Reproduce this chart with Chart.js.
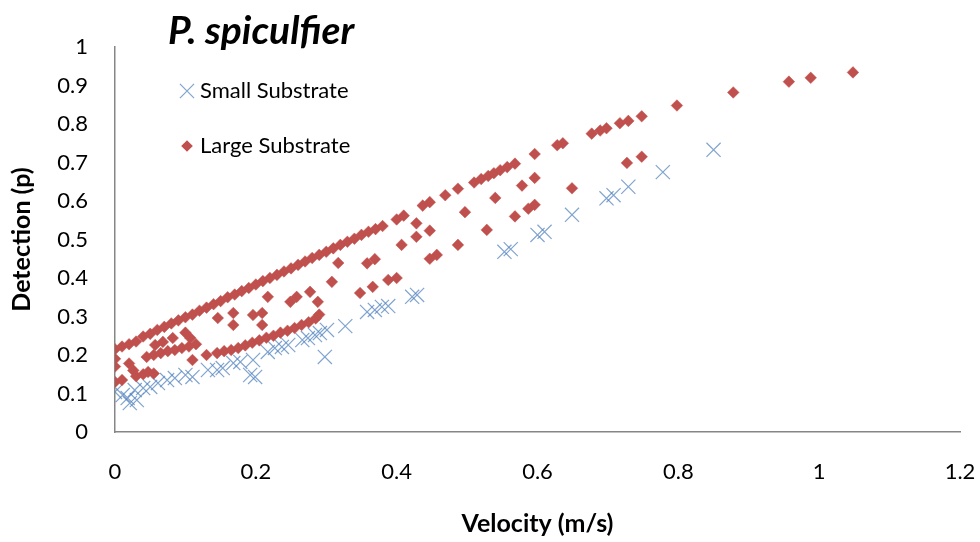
<!DOCTYPE html>
<html><head><meta charset="utf-8">
<script src="https://cdn.jsdelivr.net/npm/chart.js@4/dist/chart.umd.min.js"></script>
<style>html,body{margin:0;padding:0;background:#fff}canvas{display:block}</style>
</head><body>
<canvas id="c" width="980" height="542"></canvas>
<script>
const chartTitle = 'P. spiculfier';
const xAxisTitle = 'Velocity (m/s)';
const yAxisTitle = 'Detection (p)';
const seriesNames = ['Small Substrate', 'Large Substrate'];
const xTickValues = [0, 0.2, 0.4, 0.6, 0.8, 1, 1.2];
const yTickValues = [0, 0.1, 0.2, 0.3, 0.4, 0.5, 0.6, 0.7, 0.8, 0.9, 1];

const smallVelocity = [0, 0.011, 0.018, 0.021, 0.028, 0.031, 0.04, 0.05, 0.061, 0.074, 0.085, 0.1, 0.11, 0.132, 0.145,
  0.153, 0.168, 0.178, 0.196, 0.192, 0.199, 0.217, 0.227, 0.237, 0.246, 0.266, 0.274, 0.284, 0.291, 0.301, 0.298,
  0.327, 0.358, 0.369, 0.379, 0.388, 0.422, 0.429, 0.553, 0.562, 0.6, 0.61, 0.649, 0.698, 0.708, 0.729, 0.778, 0.85];
const smallDetection = [0.104, 0.096, 0.088, 0.075, 0.109, 0.083, 0.114, 0.117, 0.127, 0.135, 0.14, 0.148, 0.143, 0.161, 0.161,
  0.166, 0.179, 0.182, 0.187, 0.148, 0.143, 0.208, 0.218, 0.221, 0.226, 0.239, 0.244, 0.252, 0.257, 0.265, 0.195,
  0.275, 0.312, 0.317, 0.325, 0.327, 0.351, 0.356, 0.468, 0.475, 0.512, 0.52, 0.564, 0.607, 0.615, 0.637, 0.675, 0.733];

const largeVelocity = [
  0, 0.01, 0.02, 0.03, 0.04, 0.05, 0.06, 0.07, 0.08, 0.09, 0.1, 0.11, 0.12, 0.13, 0.14, 0.15, 0.16, 0.17, 0.18, 0.19,
  0.2, 0.21, 0.22, 0.23, 0.24, 0.25, 0.26, 0.27, 0.28, 0.29, 0.3, 0.31, 0.32, 0.33, 0.34, 0.35, 0.36, 0.37, 0.38,
  0.4, 0.41, 0.437, 0.447, 0.469, 0.487, 0.51, 0.52, 0.53, 0.538, 0.547, 0.557, 0.568,
  0.596, 0.628, 0.636, 0.677, 0.689, 0.698, 0.717, 0.729, 0.748, 0.798, 0.878, 0.957, 0.988, 1.048,
  0, 0, 0, 0.01, 0.02, 0.026, 0.03, 0.04, 0.047, 0.055,
  0.045, 0.055, 0.065, 0.075, 0.085, 0.095, 0.105, 0.115,
  0.057, 0.068, 0.082, 0.1, 0.107, 0.11, 0.146, 0.168, 0.168,
  0.13, 0.145, 0.155, 0.165, 0.175, 0.185, 0.195, 0.205, 0.215, 0.225, 0.235, 0.245, 0.255, 0.265, 0.275, 0.285, 0.29,
  0.196, 0.209, 0.209, 0.217, 0.249, 0.258, 0.277, 0.288, 0.308, 0.317, 0.348, 0.358, 0.366, 0.369, 0.388, 0.4,
  0.407, 0.428, 0.428, 0.447, 0.447, 0.457, 0.487, 0.497, 0.528, 0.54, 0.568, 0.578, 0.587, 0.596, 0.596, 0.649, 0.727, 0.748];
const largeDetection = [
  0.215, 0.222, 0.228, 0.235, 0.248, 0.255, 0.265, 0.273, 0.282, 0.29, 0.298, 0.305, 0.315, 0.323, 0.332, 0.34, 0.35, 0.357, 0.366, 0.374,
  0.383, 0.392, 0.4, 0.408, 0.417, 0.425, 0.434, 0.443, 0.452, 0.46, 0.468, 0.477, 0.486, 0.494, 0.502, 0.512, 0.52, 0.527, 0.535,
  0.552, 0.562, 0.588, 0.597, 0.615, 0.632, 0.648, 0.657, 0.665, 0.672, 0.68, 0.688, 0.697,
  0.722, 0.745, 0.75, 0.775, 0.783, 0.789, 0.802, 0.808, 0.82, 0.848, 0.882, 0.91, 0.92, 0.934,
  0.19, 0.17, 0.13, 0.135, 0.178, 0.16, 0.145, 0.15, 0.156, 0.152,
  0.195, 0.2, 0.205, 0.21, 0.213, 0.218, 0.222, 0.228,
  0.226, 0.234, 0.244, 0.258, 0.244, 0.187, 0.296, 0.309, 0.278,
  0.2, 0.205, 0.21, 0.213, 0.218, 0.225, 0.232, 0.238, 0.245, 0.25, 0.258, 0.263, 0.27, 0.278, 0.285, 0.295, 0.305,
  0.304, 0.309, 0.278, 0.351, 0.338, 0.351, 0.364, 0.338, 0.39, 0.439, 0.361, 0.438, 0.377, 0.449, 0.395, 0.4,
  0.486, 0.507, 0.542, 0.523, 0.45, 0.46, 0.486, 0.571, 0.525, 0.608, 0.56, 0.64, 0.58, 0.59, 0.66, 0.633, 0.699, 0.715];

const FONT = 'Lato';
const smallColor = 'rgba(79,129,189,0.72)';
const largeColor = '#C0504D';

function pairs(xs, ys) { return xs.map((x, i) => ({x: x, y: ys[i]})); }

const overlay = {
  id: 'overlay',
  afterDraw(chart) {
    const ctx = chart.ctx;
    ctx.save();
    ctx.fillStyle = '#000';
    ctx.textBaseline = 'alphabetic';
    ctx.textAlign = 'left';
    ctx.font = 'italic bold 39px ' + FONT;
    ctx.fillText(chartTitle, 168, 44);
    const ys = [91, 146];
    chart.data.datasets.forEach((ds, i) => {
      const cx = 187, cy = ys[i];
      ctx.save();
      if (ds.pointStyle === 'crossRot') {
        ctx.strokeStyle = ds.borderColor; ctx.lineWidth = ds.pointBorderWidth;
        const r = ds.pointRadius * 0.7071;
        ctx.beginPath();
        ctx.moveTo(cx - r, cy - r); ctx.lineTo(cx + r, cy + r);
        ctx.moveTo(cx + r, cy - r); ctx.lineTo(cx - r, cy + r);
        ctx.stroke();
      } else {
        ctx.fillStyle = ds.backgroundColor;
        const r = ds.pointRadius;
        ctx.beginPath();
        ctx.moveTo(cx, cy - r); ctx.lineTo(cx + r, cy); ctx.lineTo(cx, cy + r); ctx.lineTo(cx - r, cy);
        ctx.closePath(); ctx.fill();
      }
      ctx.restore();
      ctx.fillStyle = '#000';
      ctx.font = '22px ' + FONT;
      ctx.textBaseline = 'middle';
      ctx.fillText(ds.label, 200, cy);
    });
    ctx.restore();
  }
};

new Chart(document.getElementById('c'), {
  type: 'scatter',
  data: {
    datasets: [
      { label: seriesNames[0], data: pairs(smallVelocity, smallDetection), pointStyle: 'crossRot',
        pointRadius: 10, pointHoverRadius: 10, pointBorderWidth: 1.2, borderColor: smallColor, backgroundColor: smallColor, order: 1 },
      { label: seriesNames[1], data: pairs(largeVelocity, largeDetection), pointStyle: 'rectRot',
        pointRadius: 5.8, pointHoverRadius: 5.8, pointBorderWidth: 0.5, borderColor: largeColor, backgroundColor: largeColor, order: 0 }
    ]
  },
  options: {
    responsive: false, animation: false, devicePixelRatio: 1,
    layout: { padding: { top: 47, right: 20, bottom: 0, left: 0 } },
    plugins: { legend: { display: false }, tooltip: { enabled: false }, title: { display: false } },
    scales: {
      x: {
        type: 'linear', min: 0, max: 1.2, position: 'bottom',
        grid: { display: false, drawTicks: false },
        border: { display: true, color: '#868686', width: 1.5 },
        afterBuildTicks(s) { s.ticks = xTickValues.map(v => ({value: v})); },
        ticks: { padding: 27, color: '#000', maxRotation: 0, font: { family: FONT, size: 22 }, callback: v => String(v) },
        title: { display: true, text: xAxisTitle, color: '#000', font: { family: FONT, size: 25, weight: 'bold' }, padding: { top: 0, bottom: 3 } },
        afterFit(s) { s.height = 110; s.paddingRight = 0; s.paddingLeft = 0; }
      },
      y: {
        type: 'linear', min: 0, max: 1,
        grid: { display: false, drawTicks: false },
        border: { display: true, color: '#868686', width: 1.5 },
        afterBuildTicks(s) { s.ticks = yTickValues.map(v => ({value: v})); },
        ticks: { padding: 27, color: '#000', font: { family: FONT, size: 22 }, callback: v => String(v) },
        title: { display: true, text: yAxisTitle, color: '#000', font: { family: FONT, size: 25, weight: 'bold' }, padding: { top: 7, bottom: 0 } },
        afterFit(s) { s.width = 115; s.paddingTop = 0; s.paddingBottom = 0; }
      }
    }
  },
  plugins: [overlay]
});
</script>
</body></html>
